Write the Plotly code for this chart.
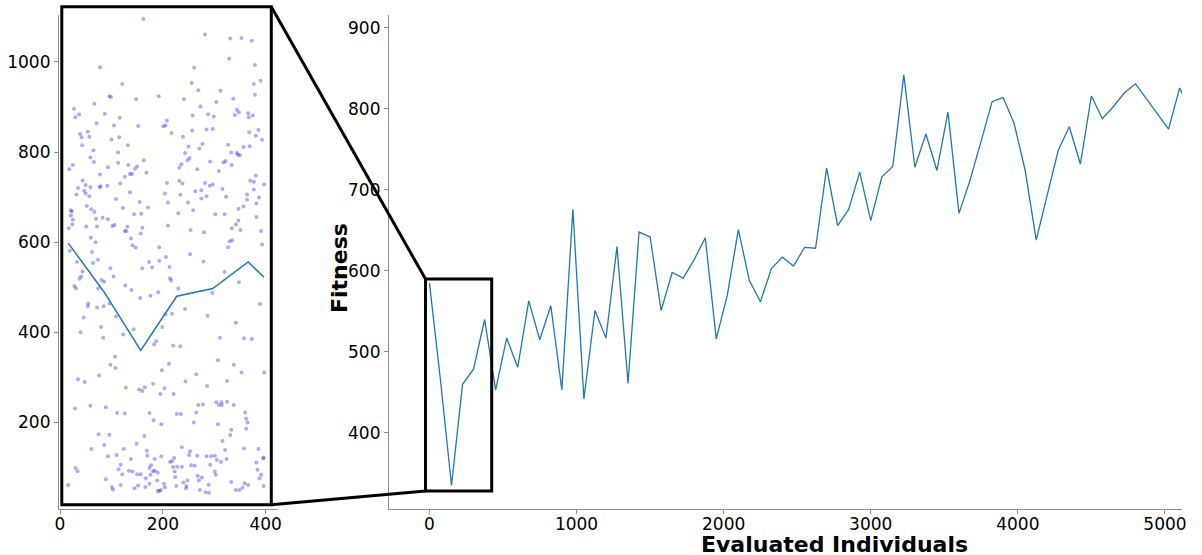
import plotly.graph_objects as go

W, H = 1202, 555

# ---------------- data ----------------
evaluated = [0, 75, 150, 225, 300, 375, 450, 525, 600, 675, 750, 825, 900, 975, 1050, 1125, 1200,
             1275, 1350, 1425, 1500, 1575, 1650, 1725, 1800, 1875, 1950, 2025, 2100, 2175, 2250,
             2325, 2400, 2475, 2550, 2625, 2700, 2775, 2850, 2925, 3000, 3075, 3150, 3225, 3300,
             3375, 3450, 3525, 3600, 3675, 3750, 3825, 3900, 3975, 4050, 4125, 4200, 4275, 4350,
             4425, 4500, 4575, 4650, 4725, 4800, 4875, 4950, 5025, 5100, 5175]
fitness = [585, 465, 335, 460, 479, 540, 453, 517, 481, 563, 515, 557, 453, 676, 442, 551, 517,
           630, 461, 648, 642, 551, 598, 591, 614, 641, 516, 570, 651, 588, 562, 603, 617, 606,
           629, 628, 727, 656, 676, 722, 662, 716, 729, 842, 728, 769, 724, 796, 671, 712, 760,
           809, 814, 782, 724, 638, 694, 749, 778, 732, 816, 788, 803, 820, 831, 812, 793, 775,
           826, 795]

zoom_line_x = [16, 86, 157, 227, 297, 366, 397]
zoom_line_y = [598, 489, 360, 480, 497, 556, 522]

pop_x = [162, 282, 331, 353, 373, 329, 379, 78, 261, 256, 377, 390, 121, 269, 312, 96, 99, 192, 379,
         148, 241, 304, 337, 67, 273, 27, 344, 30, 37, 87, 116, 258, 288, 299, 348, 340, 366, 375,
         367, 208, 71, 105, 152, 201, 205, 257, 285, 297, 386, 368, 39, 54, 42, 57, 100, 115, 217,
         239, 381, 393, 132, 43, 250, 277, 271, 327, 357, 369, 65, 113, 243, 333, 344, 346, 350,
         59, 252, 248, 66, 113, 163, 292, 318, 322, 25, 133, 150, 236, 334, 18, 93, 146, 232, 267,
         309, 168, 78, 136, 140,
         126, 44, 50, 35, 59, 79, 92, 77, 117, 208, 232, 238, 282, 291, 297, 316, 275, 263, 381,
         370, 377, 397, 47, 50, 32, 57, 136, 204, 234, 285, 275, 323, 377, 364, 387, 364, 109, 155,
         210, 249, 122, 171, 52, 61, 67, 21, 23, 21, 25, 24, 17, 70, 83, 93, 144, 158, 230, 259,
         302, 320, 347, 357, 382, 382, 51, 72, 102, 106, 131, 160, 210, 347, 342, 334, 351, 126,
         129, 157, 254, 280, 391, 60, 69, 138, 141, 147, 193, 330, 335, 327, 393, 62, 74, 64, 173,
         160, 179, 193, 206, 253, 279, 213, 19, 33, 44, 41, 38, 98, 104, 81, 86, 74, 214, 216, 320,
         348, 28, 31, 127, 139, 230, 296, 156, 176, 191, 55, 54, 72, 85, 96, 109, 46, 243, 205, 218,
         287, 389, 342, 80, 199, 143, 40, 123, 311, 358, 373, 84,
         183, 187, 220, 234, 107, 98, 108, 212, 198, 307, 338, 353, 397, 76, 35, 48, 265, 181, 128,
         154, 160, 165, 203, 195, 221, 244, 286, 325, 29, 59, 89, 111, 126, 174, 182, 197, 227, 235,
         265, 260, 269, 278, 304, 309, 314, 315, 325, 338, 307, 360, 362, 365, 362, 333, 331, 75,
         96, 164, 86, 61, 149, 316, 237, 253, 251, 169, 358, 386, 321, 93, 110, 124, 170, 138, 184,
         197, 222, 214, 218, 267, 285, 294, 301, 305, 313, 324, 382, 396, 395, 118, 114, 177, 174,
         184, 190, 181, 220, 228, 237, 255, 262, 292, 134, 141, 150, 157, 121, 176, 223, 301, 303,
         384, 391, 30, 34, 89, 167, 224, 268, 276, 270, 240, 248, 189, 202, 174, 226, 246, 245, 204,
         333, 359, 366, 388, 16, 101, 103, 118, 145, 152, 166, 190, 193, 196, 272, 283, 290, 289,
         342, 349, 355, 396]
pop_y = [1095, 1061, 1052, 1053, 1047, 1007, 993, 988, 987, 953, 951, 958, 951, 937, 936, 924, 922,
         924, 927, 917, 917, 911, 918, 907, 901, 896, 894, 877, 883, 885, 876, 881, 884, 879, 888,
         882, 886, 881, 877, 870, 864, 859, 858, 857, 859, 848, 850, 851, 849, 844, 840, 845, 833,
         834, 828, 833, 842, 834, 836, 827, 815, 815, 812, 818, 808, 816, 811, 813, 804, 799, 798,
         799, 798, 794, 793, 788, 787, 782, 778, 776, 782, 779, 777, 780, 771, 771, 768, 773, 771,
         762, 766, 763, 765, 762, 758, 754, 750, 751, 751,
         745, 737, 727, 720, 722, 724, 725, 722, 730, 731, 736, 730, 731, 725, 728, 718, 715, 713,
         748, 736, 734, 728, 714, 708, 706, 702, 711, 708, 705, 702, 697, 701, 717, 706, 699, 694,
         696, 689, 688, 688, 676, 677, 680, 673, 667, 671, 668, 659, 650, 639, 631, 652, 654, 651,
         662, 663, 664, 671, 662, 662, 674, 679, 686, 656, 635, 635, 636, 638, 634, 632, 637, 648,
         639, 631, 627, 625, 625, 619, 627, 622, 625, 610, 600, 608, 593, 588, 589, 602, 604, 589,
         595, 578, 561, 554, 556, 542, 544, 559, 567, 573, 557, 545, 581, 556, 535, 524, 519, 542,
         524, 516, 512, 497, 520, 515, 534, 511, 503, 497, 504, 494, 497, 487, 476, 481, 489, 464,
         458, 455, 458, 464, 435, 433, 452, 440, 441, 437, 463, 421, 412, 412, 407, 400, 395, 388,
         387, 385, 388,
         373, 380, 371, 369, 346, 328, 321, 330, 316, 338, 328, 311, 311, 304, 296, 290, 307, 286,
         277, 273, 270, 278, 276, 263, 263, 291, 281, 292, 231, 237, 234, 221, 220, 221, 205, 196,
         219, 219, 222, 200, 239, 240, 245, 239, 245, 239, 246, 239, 196, 222, 208, 200, 186, 184,
         172, 174, 173, 170, 150, 141, 153, 159, 145, 136, 128, 137, 142, 141, 139, 125, 128, 141,
         126, 119, 119, 125, 121, 112, 114, 126, 125, 125, 126, 117, 112, 119, 111, 122, 120, 106,
         96, 105, 99, 93, 89, 92, 101, 102, 102, 105, 104, 106, 93, 91, 85, 85, 85, 84, 91, 91, 84,
         95, 84, 99, 92, 74, 76, 79, 81, 78, 71, 67, 71, 71, 64, 64, 59, 59, 54, 56, 68, 65, 61, 76,
         61, 57, 51, 61, 54, 60, 57, 48, 48, 50, 50, 45, 44, 62, 50, 50, 55, 59]

main_xticks = [0, 1000, 2000, 3000, 4000, 5000]
main_yticks = [400, 500, 600, 700, 800, 900]
zoom_xticks = [0, 200, 400]
zoom_yticks = [200, 400, 600, 800, 1000]

# ---------------- figure ----------------
def px(x):
    return x / W


def py(y):
    return 1 - y / H


fig = go.Figure()

fig.add_trace(go.Scatter(x=pop_x, y=pop_y, mode="markers", xaxis="x2", yaxis="y2",
                         marker=dict(size=4, color="rgba(0,0,255,0.33)", line=dict(width=0)),
                         showlegend=False, hoverinfo="skip"))
fig.add_trace(go.Scatter(x=zoom_line_x, y=zoom_line_y, mode="lines", xaxis="x2", yaxis="y2",
                         line=dict(color="#1f77b4", width=1.5), showlegend=False))
fig.add_trace(go.Scatter(x=evaluated, y=fitness, mode="lines", xaxis="x", yaxis="y",
                         line=dict(color="#1f77b4", width=1.3), showlegend=False))

tickfont = dict(family="DejaVu Sans", size=17, color="#000")
axis_common = dict(showgrid=False, zeroline=False, showline=True, linecolor="#8c8c8c",
                   linewidth=1.2, ticks="outside", ticklen=4, tickcolor="#8c8c8c",
                   tickwidth=1, tickfont=tickfont, automargin=False, fixedrange=True)

fig.update_layout(
    width=W, height=H,
    margin=dict(l=0, r=0, t=0, b=0),
    paper_bgcolor="white", plot_bgcolor="white",
    xaxis=dict(domain=[px(389), px(1182)], range=[-275, 5116], tickvals=main_xticks,
               anchor="y", ticklabelstandoff=-5, **axis_common),
    yaxis=dict(domain=[py(509), py(15)], range=[306, 916], tickvals=main_yticks,
               anchor="x", **axis_common),
    xaxis2=dict(domain=[px(59), px(278)], range=[-2, 424], tickvals=zoom_xticks,
                anchor="y2", ticklabelstandoff=-5, **axis_common),
    yaxis2=dict(domain=[py(509), py(15)], range=[8, 1104], tickvals=zoom_yticks,
                anchor="x2", **axis_common),
)

# zoom rectangles and connector lines (figure decoration)
rect_line = dict(color="black", width=3)
fig.add_shape(type="rect", xref="paper", yref="paper",
              x0=px(61.8), x1=px(271.3), y0=py(504.7), y1=py(6.7), line=rect_line)
fig.add_shape(type="rect", xref="paper", yref="paper",
              x0=px(425.5), x1=px(491.7), y0=py(491), y1=py(279), line=rect_line)
fig.add_shape(type="line", xref="paper", yref="paper",
              x0=px(271.3), y0=py(6.7), x1=px(425.5), y1=py(279), line=rect_line)
fig.add_shape(type="line", xref="paper", yref="paper",
              x0=px(271.3), y0=py(504.7), x1=px(425.5), y1=py(491), line=rect_line)

title_font = dict(family="DejaVu Sans", size=22, color="#000", weight="bold")
fig.add_annotation(text="<b>Evaluated Individuals</b>", xref="paper", yref="paper",
                   x=px(834), y=py(544), xanchor="center", yanchor="middle",
                   showarrow=False, font=title_font)
fig.add_annotation(text="<b>Fitness</b>", xref="paper", yref="paper",
                   x=px(339), y=py(268), xanchor="center", yanchor="middle",
                   textangle=-90, showarrow=False, font=title_font)

fig.write_html("out.html")
